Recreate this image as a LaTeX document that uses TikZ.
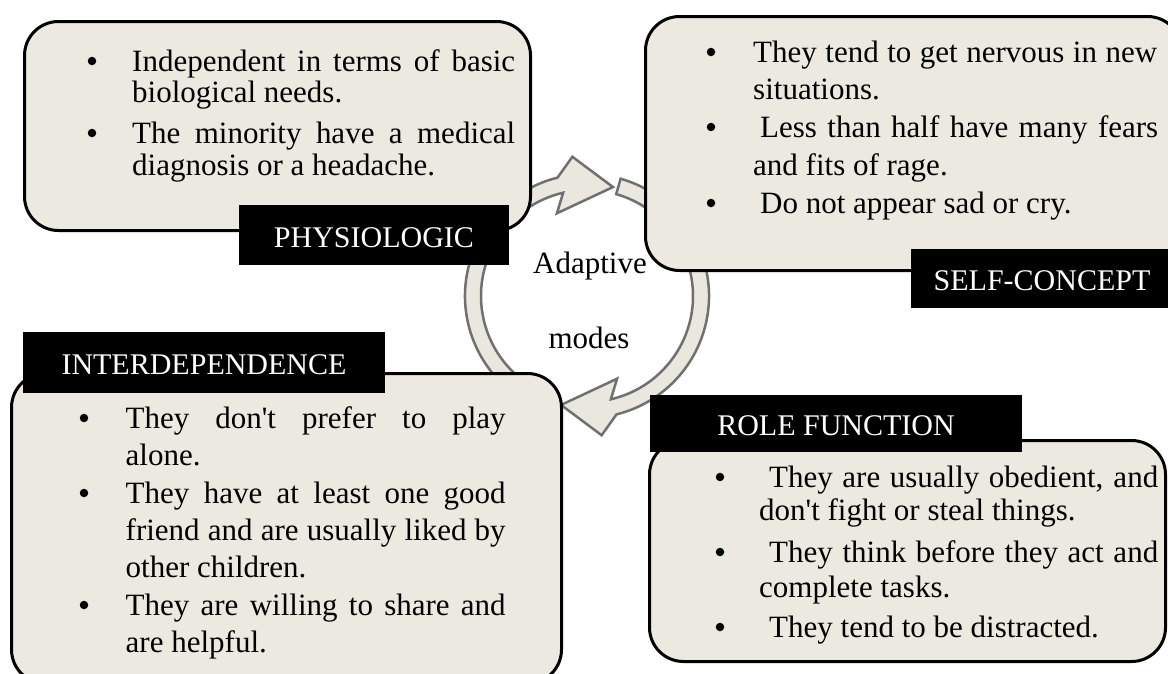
\documentclass[tikz,border=0pt]{standalone}
\usepackage{fontspec}
\setmainfont{Liberation Serif}
\definecolor{boxfill}{RGB}{235,233,224}
\definecolor{ringfill}{RGB}{233,231,222}
\definecolor{ringline}{RGB}{112,112,112}
\begin{document}
\begin{tikzpicture}[x=1pt,y=-1pt,
  box/.style={draw=black, line width=3pt, fill=boxfill, rounded corners=34pt,
    anchor=north west, inner sep=0pt},
  tag/.style={fill=black, text=white, inner sep=0pt, text height=24pt, text depth=0pt,
    font=\fontsize{30}{36}\selectfont},
  txt/.style={inner sep=0pt, anchor=base west, font=\fontsize{31}{37}\selectfont},
  dot/.style={circle, fill=black, inner sep=0pt, minimum size=8.5pt},
  hub/.style={inner sep=0pt, anchor=base, font=\fontsize{31}{37}\selectfont},
  ringarrow/.style={fill=ringfill, draw=ringline, line width=2.5pt, line join=miter}]
\useasboundingbox (0,0) rectangle (1168,673);
\clip (0,0) rectangle (1168,673);
\fill[white] (0,0) rectangle (1168,673);

% circular pair of arrows around the centre
\begin{scope}[shift={(587,296)}]
  \path[ringarrow] (106:122) arc[start angle=106, end angle=256, radius=122]
    -- (264:140) -- (283.4:112) -- (250:88) -- (257:106)
    arc[start angle=257, end angle=106, radius=106] -- cycle;
  \path[ringarrow] (-74:122) arc[start angle=-74, end angle=76, radius=122]
    -- (84:140) -- (103.4:112) -- (70:88) -- (77:106)
    arc[start angle=77, end angle=-74, radius=106] -- cycle;
\end{scope}

% mode boxes
\node[box, minimum width=506pt, minimum height=209pt] (phys) at (23,20) {};
\node[box, minimum width=536pt, minimum height=254pt] (self) at (644,15) {};
\node[box, minimum width=550pt, minimum height=310pt] (inter) at (10,372) {};
\node[box, minimum width=516pt, minimum height=221pt] (role) at (648,439) {};

% black title tags
\node[tag, minimum width=270pt, minimum height=60pt] (physTag) at (374,235) {PHYSIOLOGIC};
\node[tag, minimum width=262pt, minimum height=59pt] (selfTag) at (1042,278.5) {SELF-CONCEPT};
\node[tag, minimum width=362pt, minimum height=61pt] (interTag) at (204,362.5) {INTERDEPENDENCE};
\node[tag, minimum width=372pt, minimum height=57pt] (roleTag) at (836,423.5) {ROLE FUNCTION};

% centre caption
\node[hub] (hubA) at (590,273) {Adaptive};
\node[hub] (hubB) at (589,348) {modes};

% physiologic items
\node[dot] (pb1) at (92,61) {};
\node[txt] (p1) at (132,71) {\makebox[383pt][s]{Independent in terms of basic}};
\node[txt] (p2) at (132,102) {biological needs.};
\node[dot] (pb2) at (92,133) {};
\node[txt] (p3) at (132,143) {\makebox[383pt][s]{The minority have a medical}};
\node[txt] (p4) at (132,175) {diagnosis or a headache.};

% self-concept items
\node[dot] (sb1) at (711,52) {};
\node[txt] (s1) at (753,62) {\makebox[404pt][s]{They tend to get nervous in new}};
\node[txt] (s2) at (753,99) {situations.};
\node[dot] (sb2) at (711,127) {};
\node[txt] (s3) at (760,137) {\makebox[398pt][s]{Less than half have many fears}};
\node[txt] (s4) at (753,175) {and fits of rage.};
\node[dot] (sb3) at (711,203) {};
\node[txt] (s5) at (760,213) {Do not appear sad or cry.};

% interdependence items
\node[dot] (ib1) at (84,418) {};
\node[txt] (i1) at (125.5,428) {\makebox[380pt][s]{They don\textquotesingle t prefer to play}};
\node[txt] (i2) at (125.5,465) {alone.};
\node[dot] (ib2) at (84,493) {};
\node[txt] (i3) at (125.5,503) {\makebox[380pt][s]{They have at least one good}};
\node[txt] (i4) at (125.5,540) {\makebox[380pt][s]{friend and are usually liked by}};
\node[txt] (i5) at (125.5,577) {other children.};
\node[dot] (ib3) at (84,605) {};
\node[txt] (i6) at (125.5,615) {\makebox[380pt][s]{They are willing to share and}};
\node[txt] (i7) at (125.5,652) {are helpful.};

% role function items
\node[dot] (rb1) at (720,477) {};
\node[txt] (r1) at (769,487) {\makebox[389pt][s]{They are usually obedient, and}};
\node[txt] (r2) at (759,520) {don\textquotesingle t fight or steal things.};
\node[dot] (rb2) at (720,552) {};
\node[txt] (r3) at (769,562) {\makebox[389pt][s]{They think before they act and}};
\node[txt] (r4) at (759,597) {complete tasks.};
\node[dot] (rb3) at (720,627) {};
\node[txt] (r5) at (769,637) {They tend to be distracted.};
\end{tikzpicture}
\end{document}
